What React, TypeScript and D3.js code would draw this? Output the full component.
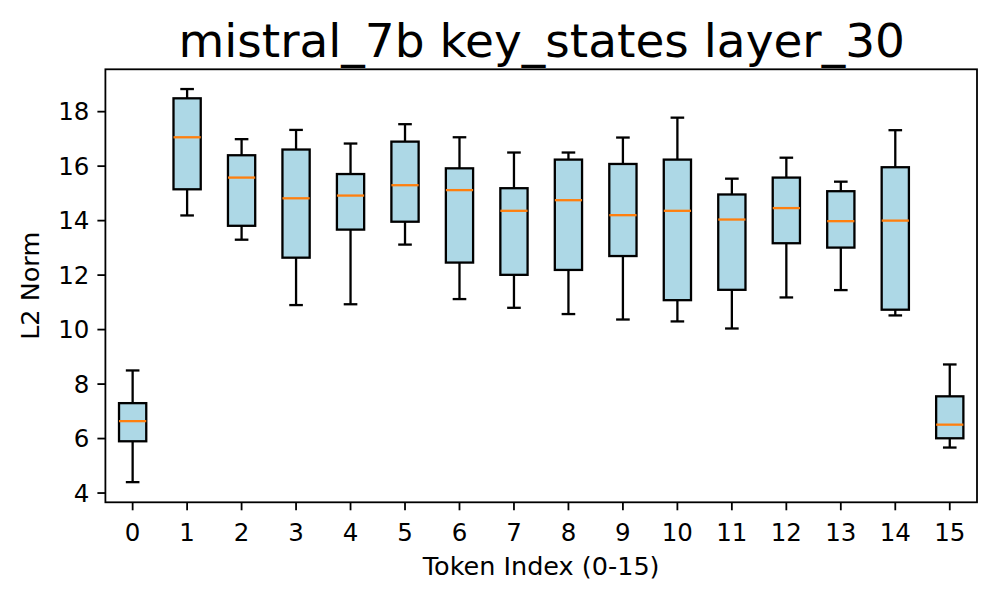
import React from "react";
import * as d3 from "d3";

const tokens = [0, 1, 2, 3, 4, 5, 6, 7, 8, 9, 10, 11, 12, 13, 14, 15];
const whiskerLow = [4.4, 14.19, 13.3, 10.9, 10.93, 13.12, 11.12, 10.8, 10.57, 10.37, 10.3, 10.04, 11.18, 11.45, 10.52, 5.67];
const q1 = [5.9, 15.15, 13.81, 12.64, 13.67, 13.96, 12.46, 12.01, 12.19, 12.7, 11.08, 11.46, 13.17, 13.01, 10.73, 6.01];
const medians = [6.64, 17.06, 15.58, 14.82, 14.92, 15.3, 15.12, 14.36, 14.75, 14.2, 14.36, 14.04, 14.46, 13.98, 14.0, 6.51];
const q3 = [7.3, 18.49, 16.4, 16.61, 15.71, 16.9, 15.92, 15.19, 16.24, 16.08, 16.24, 14.96, 15.58, 15.08, 15.96, 7.55];
const whiskerHigh = [8.5, 18.83, 16.99, 17.33, 16.83, 17.54, 17.06, 16.5, 16.5, 17.05, 17.78, 15.54, 16.31, 15.43, 17.32, 8.72];
const yTicks = [4, 6, 8, 10, 12, 14, 16, 18];

const W = 995;
const H = 600;
const left = 105.4;
const right = 977;
const top = 69.3;
const bottom = 502.3;
const font = "DejaVu Sans, sans-serif";

export default function App() {
  const x = d3.scaleLinear().domain([-0.5, 15.5]).range([left, right]);
  const y = d3.scaleLinear().domain([3.66, 19.555]).range([bottom, top]);
  const step = x(1) - x(0);
  const bw = step * 0.5;
  const cw = bw * 0.5;
  const lw = 2.3;

  return (
    <svg width={W} height={H} style={{ position: "absolute", left: 0, top: 0, background: "#fff" }}>
      <rect x={0} y={0} width={W} height={H} fill="#fff" />
      <text x={(left + right) / 2 + 0.5} y={57} textAnchor="middle" fontFamily={font} fontSize={47} fill="#000">
        mistral_7b key_states layer_30
      </text>
      {tokens.map((t, i) => {
        const cx = x(t);
        return (
          <g key={t}>
            <line x1={cx} x2={cx} y1={y(q3[i])} y2={y(whiskerHigh[i])} stroke="#000" strokeWidth={lw} />
            <line x1={cx} x2={cx} y1={y(q1[i])} y2={y(whiskerLow[i])} stroke="#000" strokeWidth={lw} />
            <line x1={cx - cw / 2} x2={cx + cw / 2} y1={y(whiskerHigh[i])} y2={y(whiskerHigh[i])} stroke="#000" strokeWidth={lw} />
            <line x1={cx - cw / 2} x2={cx + cw / 2} y1={y(whiskerLow[i])} y2={y(whiskerLow[i])} stroke="#000" strokeWidth={lw} />
            <rect x={cx - bw / 2} y={y(q3[i])} width={bw} height={y(q1[i]) - y(q3[i])} fill="#add8e6" stroke="#000" strokeWidth={lw} />
            <line x1={cx - bw / 2} x2={cx + bw / 2} y1={y(medians[i])} y2={y(medians[i])} stroke="#ff7f0e" strokeWidth={lw} />
          </g>
        );
      })}
      <rect x={left} y={top} width={right - left} height={bottom - top} fill="none" stroke="#000" strokeWidth={1.8} />
      {yTicks.map((v) => (
        <g key={v}>
          <line x1={left - 8} x2={left} y1={y(v)} y2={y(v)} stroke="#000" strokeWidth={1.8} />
          <text x={left - 16} y={y(v)} dy="0.36em" textAnchor="end" fontFamily={font} fontSize={24.5} fill="#000">
            {v}
          </text>
        </g>
      ))}
      {tokens.map((t) => (
        <g key={t}>
          <line x1={x(t)} x2={x(t)} y1={bottom} y2={bottom + 8} stroke="#000" strokeWidth={1.8} />
          <text x={x(t)} y={541} textAnchor="middle" fontFamily={font} fontSize={24.5} fill="#000">
            {t}
          </text>
        </g>
      ))}
      <text x={(left + right) / 2} y={575} textAnchor="middle" fontFamily={font} fontSize={25.5} fill="#000">
        Token Index (0-15)
      </text>
      <text
        transform={`translate(38.5, ${(top + bottom) / 2}) rotate(-90)`}
        textAnchor="middle"
        fontFamily={font}
        fontSize={25.5}
        fill="#000"
      >
        L2 Norm
      </text>
    </svg>
  );
}
